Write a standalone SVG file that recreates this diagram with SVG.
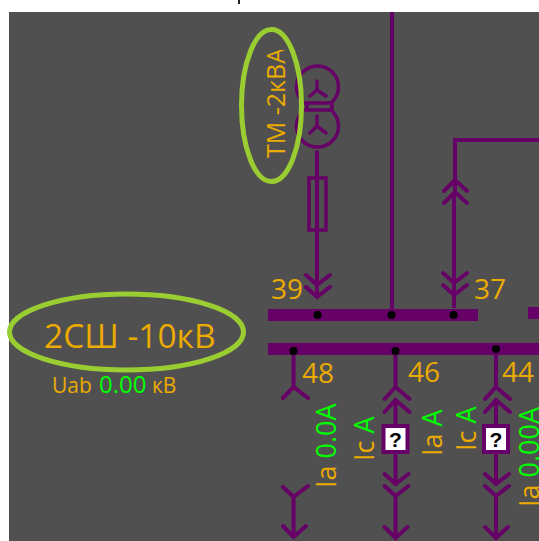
<svg xmlns="http://www.w3.org/2000/svg" width="539" height="541" viewBox="0 0 539 541">
<style>
.w{fill:none;stroke:#660066;stroke-width:4;stroke-linecap:round;stroke-linejoin:miter}
.t{fill:none;stroke:#660066;stroke-width:3.500;stroke-linecap:round}
.s{fill:none;stroke:#660066;stroke-width:4;stroke-linecap:butt}
.bus{fill:#660066}
.dot{fill:#000}
text{font-family:"Open Sans","Noto Sans",sans-serif}
.o{fill:#EBAB00}
.g{fill:#00FF00}
.n{font-size:28px}
.r{font-size:27px}
.el{fill:none;stroke:#9ACD32;stroke-width:5}
.q{font-family:"Liberation Sans",sans-serif;font-size:21px;font-weight:bold;fill:#000;text-anchor:middle}
</style>
<defs>
<clipPath id="tmclip"><rect x="250" y="50" width="50" height="115"/></clipPath>
<g id="dbl-down"><path class="w" d="M-11,-11L0,-1L13,-11M-11,1L0,11L13,1"/></g>
<g id="dbl-up"><path class="w" d="M-11,12L0,0L14,12M-11,25L0,13L14,25"/></g>
<g id="feeder">
<path class="w" d="M0,0V32"/>
<use href="#dbl-up" y="34"/>
<path class="w" d="M0,47V72"/>
<rect x="-12" y="73" width="24" height="26" fill="#fff" stroke="#660066" stroke-width="4"/>
<text class="q" y="94">?</text>
<path class="w" d="M0,100V131"/>
<use href="#dbl-down" y="132"/>
<path class="w" d="M0,143V185M-11,174L0,185L12,174"/>
</g>
</defs>
<rect width="539" height="541" fill="#fff"/>
<rect x="9" y="12" width="530" height="529" fill="#505050"/>
<rect x="238" y="0" width="2" height="4" fill="#222"/>
<g id="connectors">
<path class="s" d="M392,12V309"/>
<path class="w" d="M317,152V178M317,230V296"/>
<path class="s" d="M539,140H455V192M454,192V308"/>
</g>
<g id="transformer">
<path class="t" d="M304,103A21,21 0 1 1 331,103M304,110A21,21 0 1 0 331,110"/>
<rect x="307" y="103" width="25" height="7" fill="none" stroke="#660066" stroke-width="3.500"/>
<path class="t" d="M317,81V90M310,96L317,90L326,96M317,116V126M310,133L317,126L326,133"/>
</g>
<g id="fuse">
<rect x="309" y="178" width="17" height="52" fill="none" stroke="#660066" stroke-width="3.500"/>
<path class="w" d="M317,178V230"/>
</g>
<g id="sw39"><use href="#dbl-down" x="317" y="286"/></g>
<g id="sw37-top"><path class="w" d="M444,191L455,180L467,191M444,203L455,192L467,203"/></g>
<g id="sw37"><use href="#dbl-down" x="454" y="284"/></g>
<g id="bus1">
<rect class="bus" x="268" y="309" width="210" height="12"/>
<rect class="bus" x="528" y="307" width="11" height="12"/>
<circle class="dot" cx="317.500" cy="315" r="4"/>
<circle class="dot" cx="391.500" cy="315" r="4"/>
<circle class="dot" cx="453.500" cy="315" r="4"/>
</g>
<g id="bus2">
<rect class="bus" x="268" y="343" width="271" height="12"/>
</g>
<g id="feeder48">
<path class="w" d="M293.500,355V386M283,398L293.500,387L308,398M283,487L293.500,497L308,486M293.500,497V537M283,526L293.500,537L306,526"/>
</g>
<g id="feeder46"><use href="#feeder" x="395.500" y="353"/></g>
<g id="feeder44"><use href="#feeder" x="496" y="353"/></g>
<circle class="dot" cx="293.500" cy="351" r="4"/>
<circle class="dot" cx="395.500" cy="351" r="4"/>
<circle class="dot" cx="496" cy="349" r="4"/>
<g id="labels">
<text class="o n" x="271" y="299">39</text>
<text class="o n" x="474" y="299">37</text>
<text class="o n" x="302" y="383">48</text>
<text class="o n" x="408" y="382">46</text>
<text class="o n" x="502" y="382">44</text>
<text class="o" x="44" y="348" font-size="33.500">2СШ -10кВ</text>
<text class="o" x="52" y="393" font-size="21">Uab</text>
<text class="g" x="99" y="393" font-size="24">0.00</text>
<text class="o" x="152" y="393" font-size="21">кВ</text>
<g clip-path="url(#tmclip)"><text class="o" transform="translate(285,158) rotate(-90)" font-size="25">ТМ -2кВА</text></g>
<text class="r" transform="translate(336,488) rotate(-90)"><tspan class="o">Ia </tspan><tspan class="g">0.0A</tspan></text>
<text class="r" transform="translate(374,461) rotate(-90)"><tspan class="o">Ic </tspan><tspan class="g">A</tspan></text>
<text class="r" transform="translate(442,456) rotate(-90)"><tspan class="o">Ia </tspan><tspan class="g">A</tspan></text>
<text class="r" transform="translate(476,451) rotate(-90)"><tspan class="o">Ic </tspan><tspan class="g">A</tspan></text>
<text class="r" transform="translate(539,507) rotate(-90)"><tspan class="o">Ia </tspan><tspan class="g">0.00A</tspan></text>
</g>
<g id="highlights">
<ellipse class="el" cx="271.500" cy="105.500" rx="30" ry="76"/>
<ellipse class="el" cx="126.500" cy="332" rx="117" ry="38"/>
</g>
</svg>
